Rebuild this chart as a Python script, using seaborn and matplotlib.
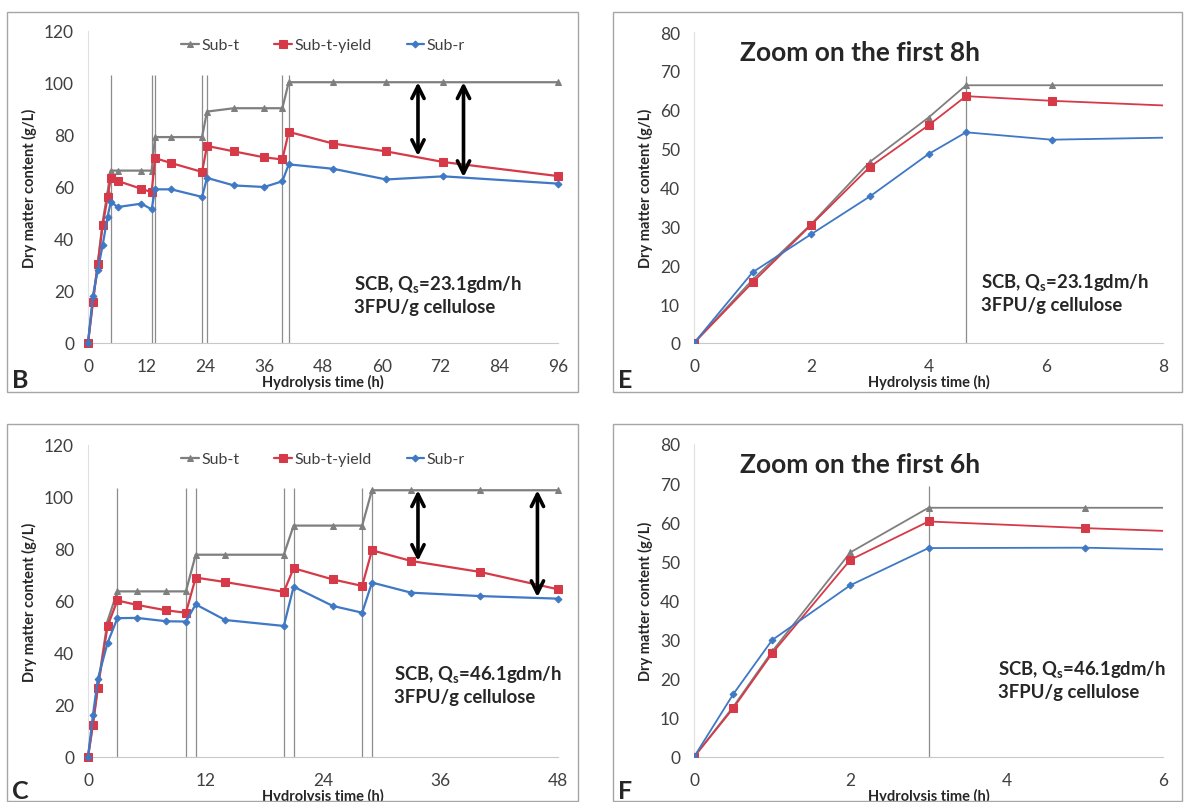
import pandas as pd
import seaborn as sns
import matplotlib.pyplot as plt
from matplotlib.patches import Rectangle

# values
series = ['Sub-t', 'Sub-t-yield', 'Sub-r']
colors = {'Sub-t': '#7F7F7F', 'Sub-t-yield': '#D63A48', 'Sub-r': '#3F78C4'}
markers = {'Sub-t': '^', 'Sub-t-yield': 's', 'Sub-r': 'D'}
msizes = {'Sub-t': 4.5, 'Sub-t-yield': 5.5, 'Sub-r': 3.5}

# Q_s = 23.1 gdm/h (panels B and E)
time_b = [0, 1, 2, 3, 4, 4.64, 6.1, 10.9, 13.0, 13.7, 17.0, 23.3, 24.3, 29.8,
          36.0, 39.7, 41.0, 50.1, 60.9, 72.6, 96]
subt_b = [0, 16.3, 30.6, 46.6, 58.0, 66.3, 66.3, 66.3, 66.3, 79.2, 79.2, 79.2,
          89.0, 90.3, 90.3, 90.3, 100.3, 100.3, 100.3, 100.3, 100.3]
yield_b = [0, 15.6, 30.4, 45.3, 56.0, 63.5, 62.3, 59.3, 58.0, 71.1, 69.2, 65.8,
           75.8, 73.7, 71.4, 70.6, 81.2, 76.7, 73.7, 69.6, 64.2]
subr_b = [0, 18.2, 28.0, 37.7, 48.6, 54.2, 52.3, 53.6, 51.4, 59.1, 59.1, 56.2,
          63.5, 60.6, 60.0, 62.2, 68.7, 67.0, 62.9, 64.1, 61.3]
feed_b = [4.64, 13.0, 13.7, 23.3, 24.3, 39.7, 41.0]
arrows_b = [(67.4, 100.3, 71.9), (76.7, 100.3, 63.8)]

# Q_s = 46.1 gdm/h (panels C and F)
time_c = [0, 0.5, 1, 2, 3, 5, 8, 10, 11, 14, 20, 21, 25, 28, 29, 33, 40, 48]
subt_c = [0, 12.8, 27.0, 52.3, 63.7, 63.7, 63.7, 63.7, 77.8, 77.8, 77.8, 89.0,
          89.0, 89.0, 102.6, 102.6, 102.6, 102.6]
yield_c = [0, 12.4, 26.5, 50.4, 60.2, 58.5, 56.4, 55.5, 69.0, 67.3, 63.5, 72.6,
           68.3, 65.8, 79.5, 75.4, 71.2, 64.5]
subr_c = [0, 16.0, 29.9, 43.9, 53.4, 53.5, 52.2, 52.1, 58.7, 52.7, 50.4, 65.5,
          58.1, 55.5, 67.1, 63.2, 61.9, 60.9]
feed_c = [3.0, 10.0, 11.0, 20.0, 21.0, 28.0, 29.0]
arrows_c = [(33.7, 102.6, 75.4), (45.9, 102.6, 61.5)]

xticks_b = [0, 12, 24, 36, 48, 60, 72, 84, 96]
xticks_c = [0, 12, 24, 36, 48]
xticks_e = [0, 2, 4, 6, 8]
xticks_f = [0, 2, 4, 6]

df_b = pd.DataFrame({'t': time_b * 3, 'v': subt_b + yield_b + subr_b,
                     's': [s for s in series for _ in time_b]})
df_c = pd.DataFrame({'t': time_c * 3, 'v': subt_c + yield_c + subr_c,
                     's': [s for s in series for _ in time_c]})

sns.set_style('white')
plt.rcParams['font.family'] = ['Lato', 'DejaVu Sans']
plt.rcParams['mathtext.fontset'] = 'custom'
plt.rcParams['mathtext.rm'] = 'Lato'
plt.rcParams['mathtext.bf'] = 'Lato:bold'

fig = plt.figure(figsize=(11.85, 8.03), dpi=100)
W, H = 1185, 803


def px_axes(left, top, right, bottom):
    return fig.add_axes([left / W, 1 - bottom / H, (right - left) / W, (bottom - top) / H])


# panel frames
for (l, t, r, b) in [(7, 13, 578, 393), (613, 13, 1182, 393),
                     (7, 425, 578, 802), (613, 425, 1182, 802)]:
    fig.patches.append(Rectangle((l / W, 1 - b / H), (r - l) / W, (b - t) / H,
                                 transform=fig.transFigure, fill=False,
                                 edgecolor='#A6A6A6', lw=1.0))


def draw(ax, df, feeds, feed_top, xmax, xticks, ymax, yticks, lw, legend, clip):
    ax.vlines(feeds, 0, feed_top, color='#8C8C8C', lw=0.9, zorder=1)
    for s in series:
        sub = df[df['s'] == s]
        sns.lineplot(data=sub, x='t', y='v', ax=ax, color=colors[s],
                     marker=markers[s], markersize=msizes[s],
                     markeredgecolor=colors[s], lw=lw, label=s,
                     sort=False, estimator=None, legend=legend, zorder=3,
                     clip_on=clip)
    ax.set_xlim(0, xmax)
    ax.set_ylim(0, ymax)
    ax.set_xticks(xticks)
    ax.set_yticks(yticks)
    ax.tick_params(axis='x', labelsize=12.5, length=0, pad=11, colors='#404040')
    ax.tick_params(axis='y', labelsize=12.5, length=0, pad=10, colors='#404040')
    for sp in ['top', 'right']:
        ax.spines[sp].set_visible(False)
    ax.spines['left'].set_color('#E0E0E0')
    ax.spines['bottom'].set_color('#C8C8C8')
    ax.set_xlabel('Hydrolysis time (h)', fontsize=10.5, weight='bold', labelpad=0)
    ax.set_ylabel('Dry matter content (g/L)', fontsize=10.5, weight='bold', labelpad=5)
    ax.patch.set_alpha(0)
    if legend:
        ax.legend(loc='center', bbox_to_anchor=(0.5, 0.955), ncol=3, frameon=False,
                  fontsize=11.5, handlelength=1.1, handletextpad=0.15,
                  columnspacing=2.2, labelcolor='#404040')


def arrows(ax, arr):
    for x, top, bottom in arr:
        ax.annotate('', xy=(x, top), xytext=(x, bottom),
                    arrowprops=dict(arrowstyle='<->', lw=2.6, color='black',
                                    mutation_scale=22, shrinkA=0, shrinkB=0))


def note(ax, x, y, qs):
    ax.text(x, y, 'SCB, Q$_\\mathbf{s}$=' + qs + 'gdm/h\n3FPU/g cellulose',
            transform=ax.transAxes, fontsize=13.3, weight='bold',
            linespacing=1.3, va='center', ha='left')


ax_b = px_axes(88, 32, 558, 344)
draw(ax_b, df_b, feed_b, 103, 96, xticks_b, 120, range(0, 121, 20), 1.6, True, False)
arrows(ax_b, arrows_b)
note(ax_b, 0.566, 0.157, '23.1')

ax_e = px_axes(694, 33, 1163, 344)
draw(ax_e, df_b, [4.64], 68.8, 8, xticks_e, 80, range(0, 81, 10), 1.3, False, True)
note(ax_e, 0.613, 0.163, '23.1')
ax_e.text(0.354, 0.935, 'Zoom on the first 8h', transform=ax_e.transAxes,
          fontsize=19, weight='bold', ha='center', va='center')

ax_c = px_axes(88, 446, 558, 758)
draw(ax_c, df_c, feed_c, 103.5, 48, xticks_c, 120, range(0, 121, 20), 1.6, True, False)
arrows(ax_c, arrows_c)
note(ax_c, 0.65, 0.233, '46.1')

ax_f = px_axes(694, 445, 1163, 758)
draw(ax_f, df_c, [3.0], 69.3, 6, xticks_f, 80, range(0, 81, 10), 1.3, False, True)
note(ax_f, 0.649, 0.248, '46.1')
ax_f.text(0.354, 0.935, 'Zoom on the first 6h', transform=ax_f.transAxes,
          fontsize=19, weight='bold', ha='center', va='center')

for (x, y, lab) in [(12, 392, 'B'), (618, 392, 'E'), (12, 803, 'C'), (618, 803, 'F')]:
    fig.text(x / W, 1 - y / H, lab, fontsize=18, weight='bold', ha='left', va='bottom')

fig.savefig('out.png', dpi=100)
